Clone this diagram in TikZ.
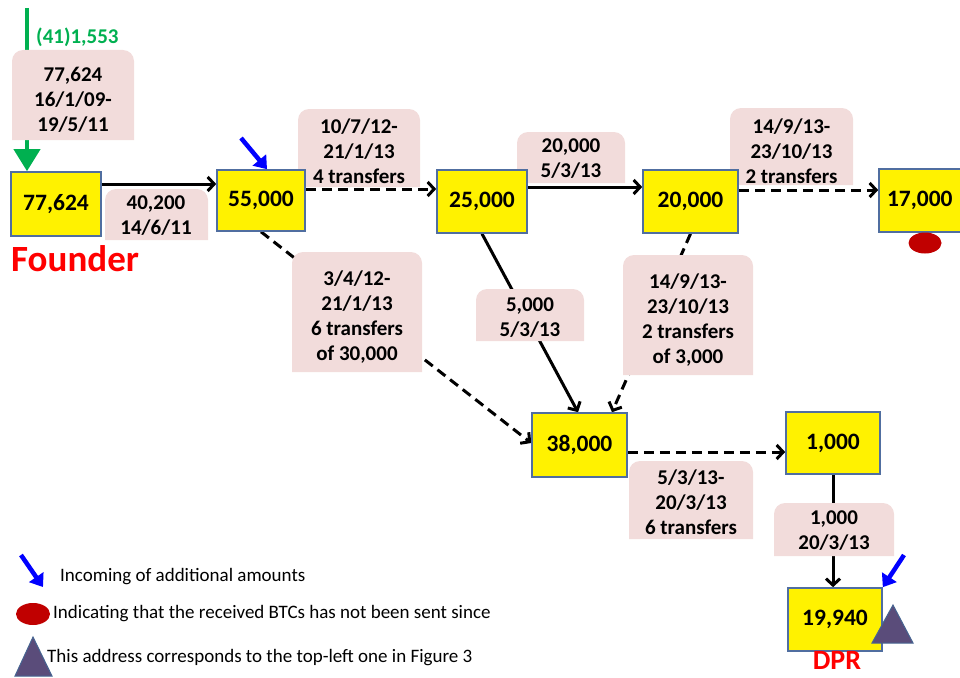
\documentclass[tikz,border=0pt]{standalone}
\usepackage{fontspec}
\setmainfont{Carlito}
\usetikzlibrary{arrows.meta,shapes.geometric}

\definecolor{boxline}{RGB}{80,110,160}
\definecolor{pinkc}{RGB}{242,220,219}
\definecolor{grn}{RGB}{0,176,80}
\definecolor{dred}{RGB}{192,0,0}
\definecolor{trifill}{RGB}{90,76,122}
\definecolor{triline}{RGB}{70,100,145}

\pgfdeclarelayer{edges}
\pgfdeclarelayer{boxes}
\pgfsetlayers{edges,boxes,main}

% pink label panel: rounded top corners, square bottom corners
\newcommand\pinkpanel[4]{%
  \begin{pgfonlayer}{boxes}
    \fill[pinkc,rounded corners=11pt] (#1,#4) -- (#1,#2) -- (#3,#2) -- (#3,#4);
  \end{pgfonlayer}}

\tikzset{
  addr/.style={draw=boxline, fill=yellow, line width=1.6pt, inner sep=0pt,
    font=\fontsize{23.5}{27}\selectfont\bfseries},
  lbltext/.style={align=center, inner sep=0pt,
    font=\fontsize{21}{25}\selectfont\bfseries},
  flow/.style={line width=3pt, -{Straight Barb[length=6.5pt,width=14pt]}},
  flowdash/.style={flow, dash pattern=on 10pt off 6pt},
  incoming/.style={blue, line width=4.5pt, -{Triangle[length=12pt,width=17pt]}},
  legendtext/.style={anchor=west, inner sep=0pt, font=\fontsize{19}{22}\selectfont},
  redtag/.style={text=red, inner sep=0pt, font=\bfseries},
  unsent/.style={ellipse, fill=dred, inner sep=0pt}
}

\begin{document}
\begin{tikzpicture}[x=1pt,y=-1pt]
\useasboundingbox (0,0) rectangle (960,677);

% addresses
\node[addr, minimum width=90, minimum height=64] (n1) at (56,204) {77,624};
\node[addr, minimum width=88, minimum height=61] (n2) at (261,200.5) {55,000};
\node[addr, minimum width=90, minimum height=63] (n3) at (482,201.5) {25,000};
\node[addr, minimum width=95, minimum height=63] (n4) at (690.5,201.5) {20,000};
\node[addr, minimum width=96, minimum height=63, text width=80, align=left] (n5) at (927,200.5) {17,000};
\node[addr, minimum width=95, minimum height=64] (n6) at (579.5,445) {38,000};
\node[addr, minimum width=94, minimum height=62] (n7) at (833,443) {1,000};
\node[addr, minimum width=94, minimum height=63] (n8) at (835,619.5) {19,940};

% transfer labels
\pinkpanel{12}{50}{134}{140}
\node[lbltext] (la) at (73,100) {77,624\\16/1/09-\\19/5/11};
\pinkpanel{105}{189}{208}{240}
\node[lbltext] (lb) at (156,215.5) {40,200\\14/6/11};
\pinkpanel{298}{109}{420}{187}
\node[lbltext] (lc) at (359,151) {10/7/12-\\21/1/13\\4 transfers};
\pinkpanel{517}{132}{625}{183}
\node[lbltext] (ld) at (571,159) {20,000\\5/3/13};
\pinkpanel{730}{108}{853}{185}
\node[lbltext] (le) at (791.5,151) {14/9/13-\\23/10/13\\2 transfers};
\pinkpanel{292}{252}{422}{372}
\node[lbltext] (lf) at (357,317) {3/4/12-\\21/1/13\\6 transfers\\of 30,000};
\pinkpanel{476}{289}{584}{341}
\node[lbltext] (lg) at (530,317.5) {5,000\\5/3/13};
\pinkpanel{623}{255}{753}{375}
\node[lbltext] (lh) at (688,320) {14/9/13-\\23/10/13\\2 transfers\\of 3,000};
\pinkpanel{629}{461}{753}{539}
\node[lbltext] (li) at (691,502) {5/3/13-\\20/3/13\\6 transfers};
\pinkpanel{774}{503}{894}{556}
\node[lbltext] (lj) at (834,531) {1,000\\20/3/13};

% transfers between addresses
\begin{pgfonlayer}{edges}
  \draw[flow] ([yshift=20pt]n1.east) -- ([yshift=16.5pt]n2.west);
  \draw[flowdash] ([yshift=11.5pt]n2.east) -- ([yshift=12.5pt]n3.west);
  \draw[flow] ([yshift=14.5pt]n3.east) -- ([yshift=14.5pt]n4.west);
  \draw[flowdash] ([yshift=11.5pt]n4.east) -- ([yshift=10.5pt]n5.west);
  \draw[flowdash] (n2.south) -- ([yshift=2pt]n6.west);
  \draw[flow] (n3.south) -- ([xshift=-1.5pt]n6.north);
  \draw[flowdash] (n4.south) -- ([xshift=32.5pt]n6.north);
  \draw[flowdash] ([yshift=-7pt]n6.east) -- ([yshift=-9pt]n7.west);
  \draw[flow] (n7.south) -- ([xshift=-2pt]n8.north);
  % initial funding of the founder address
  \coordinate (gtop) at (27,8);
  \draw[grn, line width=4pt, -{Triangle[length=22pt,width=26pt]}] (gtop) -- ([xshift=-29pt]n1.north);
\end{pgfonlayer}
\node[anchor=west, text=grn, inner sep=0pt, font=\fontsize{21}{24}\selectfont\bfseries] (gl) at (36,37) {(41)1,553};

% incoming amounts
\coordinate (b1) at (241,138);
\draw[incoming] (b1) -- ([xshift=6pt]n2.north);
\coordinate (b2) at (904,555);
\draw[incoming] (b2) -- (n8.north east);

% markers
\node[unsent, minimum width=33, minimum height=21] (e1) at (925,243) {};
\filldraw[fill=trifill, draw=triline, line width=1pt] (872,643) -- (913,643) -- (893,605) -- cycle;

% role tags
\node[redtag, anchor=west, font=\fontsize{37}{42}\selectfont\bfseries] (founder) at (11,259) {Founder};
\node[redtag, anchor=base, font=\fontsize{28}{32}\selectfont\bfseries] (dpr) at (837,669) {DPR};

% legend
\coordinate (k1) at (21,555);
\coordinate (k1e) at (43,587);
\draw[incoming] (k1) -- (k1e);
\node[legendtext] (t1) at (60,577) {Incoming of additional amounts};
\node[unsent, minimum width=34, minimum height=22] (e2) at (33,614) {};
\node[legendtext] (t2) at (53,614) {Indicating that the received BTCs has not been sent since};
\filldraw[fill=trifill, draw=triline, line width=1pt] (15,676) -- (52,676) -- (33,637) -- cycle;
\node[legendtext] (t3) at (47,658) {This address corresponds to the top-left one in Figure 3};
\end{tikzpicture}
\end{document}
